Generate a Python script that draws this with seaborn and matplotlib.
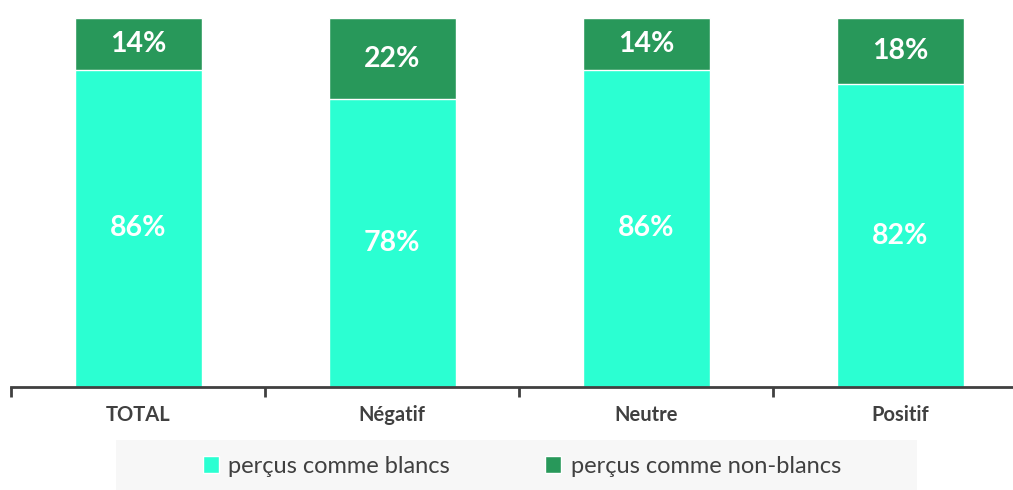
import pandas as pd
import matplotlib.pyplot as plt
import seaborn as sns
from matplotlib.patches import Rectangle
from matplotlib.ticker import FixedLocator

# Données
categories = ["TOTAL", "Négatif", "Neutre", "Positif"]
blancs = [86, 78, 86, 82]
non_blancs = [14, 22, 14, 18]
series_labels = ["perçus comme blancs", "perçus comme non-blancs"]

col_blancs = "#2BFFD2"
col_non_blancs = "#28985A"
col_text = "#404040"

df = pd.DataFrame({"cat": categories, "blancs": blancs, "non_blancs": non_blancs})
df["total"] = df["blancs"] + df["non_blancs"]

sns.set_style("white")
plt.rcParams["font.family"] = ["Lato", "DejaVu Sans"]

fig = plt.figure(figsize=(10.13, 4.9), dpi=100)
ax = fig.add_axes([11 / 1013, 103 / 490, 1016 / 1013, 369 / 490])

sns.barplot(data=df, x="cat", y="total", color=col_non_blancs, width=0.5,
            saturation=1, ax=ax, label=series_labels[1])
sns.barplot(data=df, x="cat", y="blancs", color=col_blancs, width=0.5,
            saturation=1, ax=ax, label=series_labels[0])
handles, labels = ax.get_legend_handles_labels()
if ax.get_legend() is not None:
    ax.get_legend().remove()

# étiquettes des valeurs
for i, row in df.iterrows():
    ax.text(i, row["blancs"] / 2, f"{row['blancs']}%", ha="center", va="center",
            color="white", fontsize=20.5, fontweight="bold")
    ax.text(i, row["blancs"] + row["non_blancs"] / 2, f"{row['non_blancs']}%",
            ha="center", va="center", color="white", fontsize=20.5, fontweight="bold")

ax.set_xlim(-0.5, len(categories) - 0.5)
ax.set_ylim(0, 100)
ax.set_xlabel("")
ax.set_ylabel("")
ax.set_yticks([])
for s in ["top", "right", "left"]:
    ax.spines[s].set_visible(False)
ax.spines["bottom"].set_color(col_text)
ax.spines["bottom"].set_linewidth(2)

ax.xaxis.set_minor_locator(FixedLocator([i - 0.5 for i in range(len(categories) + 1)]))
ax.tick_params(axis="x", which="major", length=0, pad=13, labelsize=14.5,
               labelcolor=col_text)
ax.tick_params(axis="x", which="minor", bottom=True, length=7, width=2, color=col_text)
for lbl in ax.get_xticklabels():
    lbl.set_fontweight("bold")

# légende
fig.patches.append(Rectangle((116 / 1013, 0), 801 / 1013, 50 / 490,
                             transform=fig.transFigure, facecolor="#F7F7F7",
                             edgecolor="none", zorder=0))
order = [labels.index(series_labels[0]), labels.index(series_labels[1])]
fig.legend([handles[k] for k in order], [labels[k] for k in order],
           loc="center", bbox_to_anchor=(0.515, 24 / 490), ncol=2, frameon=False,
           fontsize=17, labelcolor=col_text, handlelength=0.7, handleheight=0.7,
           handletextpad=0.4, columnspacing=4.0)

fig.savefig("out.png", dpi=100)
